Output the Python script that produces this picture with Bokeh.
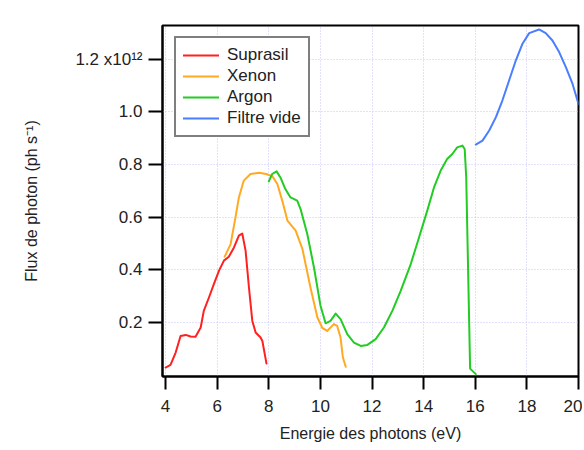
from bokeh.plotting import figure
from bokeh.models import (Range1d, FixedTicker, CustomJSTickFormatter, ColumnDataSource,
                          Whisker, Legend, LegendItem)
from bokeh.embed import file_html
from bokeh.resources import INLINE

# ---- data (flux in units of 1e12 ph/s) ----
suprasil_x = [4.0, 4.19, 4.39, 4.58, 4.78, 4.97, 5.16, 5.36, 5.48, 5.68, 5.87, 6.07,
              6.26, 6.45, 6.65, 6.84, 6.97, 7.1, 7.23, 7.36, 7.49, 7.68, 7.75, 7.91]
suprasil_y = [0.029, 0.039, 0.086, 0.149, 0.153, 0.147, 0.146, 0.181, 0.244, 0.295, 0.346, 0.397,
              0.435, 0.45, 0.485, 0.53, 0.538, 0.473, 0.333, 0.206, 0.162, 0.143, 0.13, 0.044]

xenon_x = [6.29, 6.52, 6.71, 6.84, 7.03, 7.29, 7.62, 7.9, 8.14, 8.33, 8.52, 8.72, 9.04,
           9.3, 9.62, 9.88, 10.07, 10.26, 10.52, 10.65, 10.78, 10.87, 10.98]
xenon_y = [0.45, 0.498, 0.6, 0.675, 0.739, 0.764, 0.769, 0.764, 0.755, 0.726, 0.663, 0.587, 0.549,
           0.48, 0.33, 0.22, 0.18, 0.168, 0.194, 0.187, 0.143, 0.067, 0.032]

argon_x = [8.0, 8.13, 8.3, 8.45, 8.64, 8.84, 9.1, 9.23, 9.49, 9.75, 10.0, 10.2, 10.39, 10.59,
           10.78, 11.04, 11.3, 11.56, 11.82, 12.14, 12.46, 12.79, 13.11, 13.5, 13.82, 14.14,
           14.4, 14.66, 14.91, 15.11, 15.3, 15.5, 15.59, 15.65, 15.8, 16.02]
argon_y = [0.736, 0.764, 0.774, 0.751, 0.707, 0.675, 0.663, 0.631, 0.536, 0.409, 0.265, 0.197,
           0.206, 0.234, 0.213, 0.156, 0.124, 0.111, 0.115, 0.137, 0.181, 0.245, 0.32, 0.422,
           0.523, 0.625, 0.713, 0.777, 0.821, 0.84, 0.865, 0.872, 0.859, 0.75, 0.025, 0.004]

filtre_x = [16.02, 16.28, 16.54, 16.8, 17.05, 17.31, 17.57, 17.83, 18.09, 18.47, 18.73, 18.99,
            19.25, 19.51, 19.77, 20.0]
filtre_y = [0.876, 0.891, 0.929, 0.98, 1.043, 1.119, 1.195, 1.259, 1.299, 1.313, 1.299, 1.271,
            1.227, 1.17, 1.106, 1.03]

series_names = ["Suprasil", "Xenon", "Argon", "Filtre vide"]
series_colors = ["#ff2020", "#ffaa22", "#22cc22", "#4a7dff"]

x_ticks = [4, 6, 8, 10, 12, 14, 16, 18, 20]
y_ticks = [0.2, 0.4, 0.6, 0.8, 1.0, 1.2]
y_tick_labels = ["0.2", "0.4", "0.6", "0.8", "1.0", "1.2 x10\u00b9\u00b2"]

FONT = "Liberation Sans"
W, H = 582, 448
BL, BT, BR, BB = 162, 25, 4, 72
FRAME_W, FRAME_H = W - BL - BR, H - BT - BB

p = figure(width=W, height=H, output_backend="svg", toolbar_location=None,
           x_range=Range1d(3.88, 20.0), y_range=Range1d(-0.005, 1.328),
           min_border_left=BL, min_border_top=BT, min_border_right=BR, min_border_bottom=BB)
p.title = None
p.background_fill_color = "white"
p.border_fill_color = "white"
p.outline_line_color = "black"
p.outline_line_width = 2

renderers = []
for xs, ys, c in zip([suprasil_x, xenon_x, argon_x, filtre_x],
                     [suprasil_y, xenon_y, argon_y, filtre_y], series_colors):
    r = p.line(xs, ys, line_color=c, line_width=2, line_join="round", line_cap="round")
    renderers.append(r)

# grids
for g in (p.xgrid, p.ygrid):
    g.grid_line_color = "#c4c4ff"
    g.grid_line_dash = "1 2"
    g.grid_line_width = 1
p.xgrid.ticker = FixedTicker(ticks=x_ticks)
p.ygrid.ticker = FixedTicker(ticks=y_ticks)

# bottom axis
xa = p.xaxis[0]
xa.ticker = FixedTicker(ticks=x_ticks)
xa.axis_label = "Energie des photons (eV)"
# left axis
ya = p.yaxis[0]
ya.ticker = FixedTicker(ticks=y_ticks)
ya.formatter = CustomJSTickFormatter(args=dict(tvals=y_ticks, tlabels=y_tick_labels), code="""
    for (let i = 0; i < tvals.length; i++) {
        if (Math.abs(tick - tvals[i]) < 1e-6) return tlabels[i];
    }
    return '';
""")
ya.axis_label = "Flux de photon (ph s\u207b\u00b9)"

for ax in (xa, ya):
    ax.axis_line_width = 2
    ax.axis_line_color = "black"
    ax.major_tick_line_width = 2
    ax.major_tick_line_color = "black"
    ax.major_tick_in = 0
    ax.minor_tick_line_color = None
    ax.major_label_text_font = FONT
    ax.major_label_text_font_size = "17px"
    ax.major_label_text_color = "#222222"
    ax.axis_label_text_font = FONT
    ax.axis_label_text_font_size = "16px"
    ax.axis_label_text_font_style = "normal"
    ax.axis_label_text_color = "#222222"

xa.major_tick_out = 13
xa.major_label_standoff = 10
xa.axis_label_standoff = 10
ya.major_tick_out = 14
ya.major_label_standoff = 6
ya.axis_label_standoff = 32

# mirrored outward ticks on top and right edges of the frame
top_src = ColumnDataSource(dict(base=x_ticks, lower=[FRAME_H] * len(x_ticks),
                                upper=[FRAME_H + 13] * len(x_ticks)))
right_src = ColumnDataSource(dict(base=y_ticks, lower=[FRAME_W] * len(y_ticks),
                                  upper=[FRAME_W + 4] * len(y_ticks)))
top_w = Whisker(source=top_src, base="base", lower="lower", upper="upper", dimension="height",
                lower_units="screen", upper_units="screen", lower_head=None, upper_head=None,
                line_color="black", line_width=2)
right_w = Whisker(source=right_src, base="base", lower="lower", upper="upper", dimension="width",
                  lower_units="screen", upper_units="screen", lower_head=None, upper_head=None,
                  line_color="black", line_width=2)
p.add_layout(top_w)
p.add_layout(right_w)

legend = Legend(items=[LegendItem(label=n, renderers=[r]) for n, r in zip(series_names, renderers)],
                location=(12, 239), margin=0, padding=7, spacing=1,
                glyph_width=36, glyph_height=20, label_height=20, label_standoff=8,
                label_text_font=FONT, label_text_font_size="17px", label_text_color="#222222",
                border_line_color="black", border_line_width=2, background_fill_alpha=1)
p.add_layout(legend, "center")

open("out.html", "w").write(file_html(p, INLINE))
